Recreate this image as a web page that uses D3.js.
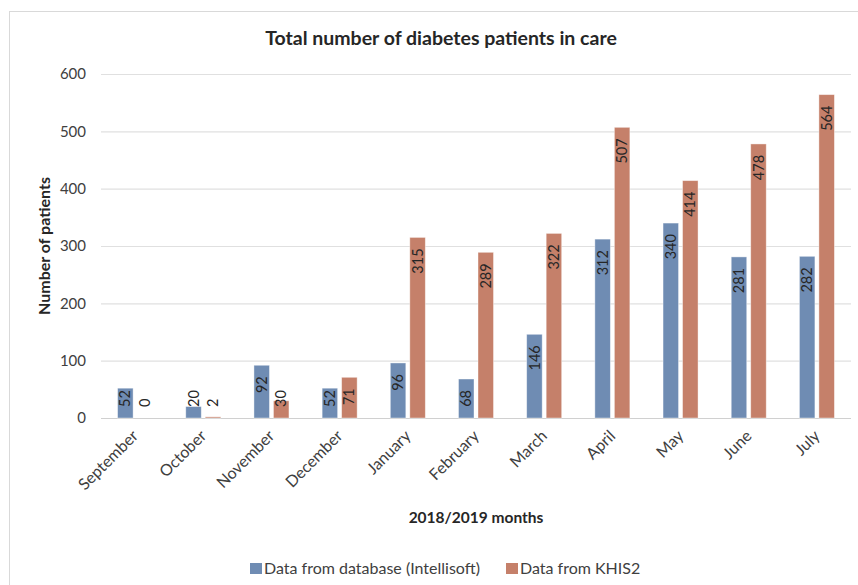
<!DOCTYPE html>
<html>
<head>
<meta charset="utf-8">
<script src="https://cdn.jsdelivr.net/npm/d3@7"></script>
<style>
  html, body { margin: 0; padding: 0; background: #fff; }
  svg { display: block; font-family: Lato, "Open Sans", sans-serif; }
</style>
</head>
<body>
<svg id="chart" width="858" height="585"></svg>
<script>
const months = ["September","October","November","December","January","February","March","April","May","June","July"];
const intellisoft = [52, 20, 92, 52, 96, 68, 146, 312, 340, 281, 282];
const khis2 = [0, 2, 30, 71, 315, 289, 322, 507, 414, 478, 564];
const seriesNames = ["Data from database (Intellisoft)", "Data from KHIS2"];
const yTicks = [0, 100, 200, 300, 400, 500, 600];

(function () {
const colors = ["#6f8cb3", "#c5806a"];
const svg = d3.select("#chart");

// chart border
svg.append("rect").attr("x", 9.5).attr("y", 11.5).attr("width", 900).attr("height", 700)
  .attr("fill", "none").attr("stroke", "#d9d9d9");

const pLeft = 101, pRight = 851, pTop = 74, pBottom = 418;
const x = d3.scaleBand().domain(months).range([pLeft, pRight]).padding(0);
const y = d3.scaleLinear().domain([0, 600]).range([pBottom, pTop]);
const xs = d3.scaleBand().domain([0, 1]).range([-17.5, 17.5]).paddingInner(0.205).paddingOuter(0);

// gridlines
svg.append("g").selectAll("line").data(yTicks).join("line")
  .attr("x1", pLeft).attr("x2", pRight)
  .attr("y1", d => y(d) + 0.5).attr("y2", d => y(d) + 0.5)
  .attr("stroke", d => d === 0 ? "#d0d0d0" : "#e0e0e0").attr("stroke-width", 1.2);

// y tick labels
svg.append("g").selectAll("text").data(yTicks).join("text")
  .attr("x", 86).attr("y", d => y(d)).attr("dy", "0.35em")
  .attr("text-anchor", "end").attr("font-size", 15).attr("fill", "#404040")
  .text(d => d);

// bars
const data = months.map((m, i) => ({ m, vals: [intellisoft[i], khis2[i]] }));
const groups = svg.append("g").selectAll("g").data(data).join("g")
  .attr("transform", d => `translate(${x(d.m) + x.bandwidth() / 2},0)`);

groups.selectAll("rect").data(d => d.vals.map((v, s) => ({ v, s }))).join("rect")
  .attr("x", d => xs(d.s)).attr("width", xs.bandwidth())
  .attr("y", d => y(d.v)).attr("height", d => y(0) - y(d.v))
  .attr("fill", d => colors[d.s])
  .attr("stroke", "#fff").attr("stroke-opacity", 0.5).attr("stroke-width", 0.8);

// data labels
groups.selectAll("text").data(d => d.vals.map((v, s) => ({ v, s }))).join("text")
  .attr("font-size", 14.5).attr("fill", "#262626")
  .text(d => d.v)
  .each(function (d) {
    const t = d3.select(this);
    const len = this.getComputedTextLength();
    const cx = xs(d.s) + xs.bandwidth() / 2;
    let yEnd = y(d.v) + 11;
    let yStart = yEnd + len;
    if (yStart > y(0) - 11) { yStart = y(0) - 11; }
    t.attr("text-anchor", "start")
     .attr("transform", `translate(${cx},${yStart}) rotate(-90)`)
     .attr("dy", "0.35em");
  });

// x tick labels
svg.append("g").selectAll("text").data(months).join("text")
  .attr("text-anchor", "end").attr("font-size", 16).attr("fill", "#404040")
  .attr("transform", d => `translate(${x(d) + x.bandwidth() / 2 + 4},${pBottom + 19}) rotate(-45)`)
  .text(d => d);

// title
svg.append("text").attr("x", 441).attr("y", 45).attr("text-anchor", "middle")
  .attr("font-size", 19.5).attr("font-weight", "bold").attr("fill", "#262626")
  .text("Total number of diabetes patients in care");

// axis titles
svg.append("text").attr("x", 476).attr("y", 523).attr("text-anchor", "middle")
  .attr("font-size", 15.5).attr("font-weight", "bold").attr("fill", "#262626")
  .text("2018/2019 months");
svg.append("text").attr("transform", "translate(50,246) rotate(-90)").attr("text-anchor", "middle")
  .attr("font-size", 16).attr("font-weight", "bold").attr("fill", "#262626")
  .text("Number of patients");

// legend
const legendX = [250, 506];
const lg = svg.append("g").selectAll("g").data(seriesNames).join("g")
  .attr("transform", (d, i) => `translate(${legendX[i]},563)`);
lg.append("rect").attr("width", 12).attr("height", 11).attr("fill", (d, i) => colors[i]);
lg.append("text").attr("x", 14).attr("y", 10.5).attr("font-size", 16).attr("fill", "#404040").text(d => d);
})();
</script>
</body>
</html>
